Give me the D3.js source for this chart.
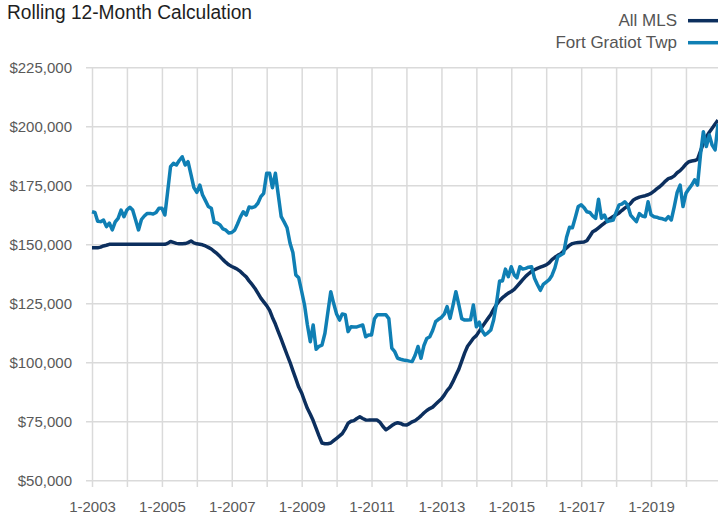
<!DOCTYPE html>
<html lang="en">
<head>
    <meta charset="UTF-8">
    <title>Rolling 12-Month Calculation</title>
    <script src="https://d3js.org/d3.v7.min.js"></script>
    <style>
        body { margin: 0; background: #fff; }
        text { font-family: "Liberation Sans", Arial, sans-serif; }
        .grid line { stroke: #dadada; stroke-width: 1.5px; }
        .grid text { fill: #595959; font-size: 15px; }
    </style>
</head>
<body>
<div id="chart"></div>

<script>
// monthly values, Jan 2003 .. Dec 2020 (in thousands of dollars)
var allMls = [
    148.5, 148.5, 148.5, 148.8, 149.3, 149.6, 150, 150, 150, 150, 150, 150,
    150, 150, 150, 150, 150, 150, 150, 150, 150, 150, 150, 150,
    150, 150, 150.4, 151.2, 150.8, 150.4, 150.2, 150.2, 150.3, 150.7, 151.4, 150.6,
    150.2, 150.0, 149.8, 149.3, 148.7, 148.0, 147.0, 146.0, 144.8, 143.5, 142.3, 141.3,
    140.6, 140.0, 139.4, 138.5, 137.3, 136.2, 134.5, 133.0, 131.3, 129.3, 127.2, 125.6,
    124.0, 122.0, 119.0, 116.2, 113.0, 109.8, 106.5, 103.2, 100.0, 96.5, 93.0, 89.5,
    87.0, 83.5, 80.5, 78.0, 75.3, 72.0, 68.8, 65.8, 65.5, 65.5, 65.8, 66.8,
    67.8, 68.8, 69.8, 71.8, 74.2, 75.0, 75.3, 76.2, 76.9, 76.2, 75.6, 75.5,
    75.5, 75.5, 75.5, 74.5, 72.8, 71.4, 72.2, 73.2, 74.0, 74.4, 74.1, 73.5,
    73.4, 74.0, 74.8, 75.3, 76.2, 77.3, 78.5, 79.6, 80.4, 81.0, 82.2, 83.4,
    84.5, 86.2, 88.0, 89.5, 91.8, 94.5, 97.0, 100.5, 104.0, 106.8, 108.5, 110.2,
    111.3, 113.2, 115.0, 116.8, 118.5, 120.3, 122.5, 124.5, 126.2, 127.4, 128.4, 129.3,
    130.0, 130.9, 132.2, 133.6, 135.0, 136.4, 137.5, 138.5, 139.2, 139.8, 140.3, 140.8,
    141.3, 142.2, 143.5, 144.5, 145.3, 146.0, 147.2, 148.5, 149.6, 150.3, 150.6, 150.8,
    150.9, 151.0, 151.5, 153.4, 155.3, 156.0, 157.0, 158.0, 159.0, 160.0, 161.0, 161.8,
    162.5, 163.3, 164.3, 165.3, 166.2, 167.3, 168.8, 169.5, 170.0, 170.3, 170.6, 171.0,
    171.6, 172.5, 173.5, 174.4, 175.5, 176.8, 177.8, 178.2, 179.0, 180.3, 181.2, 182.5,
    184.0, 185.0, 185.3, 185.5, 186.0, 189.5, 192.8, 195.5, 197.5, 199.2, 201.0, 202.6
];

var fortGratiot = [
    163.8, 163.5, 159.8, 159.6, 160.3, 157.5, 159.0, 156.1, 159.5, 161.0, 164.5, 161.7,
    164.5, 165.7, 164.5, 160.3, 156.1, 160.5, 162.0, 163.1, 163.1, 162.8, 163.5, 165.3,
    165.3, 162.4, 172.0, 182.9, 184.3, 183.6, 185.5, 187.1, 183.6, 185.0, 179.5, 174.0,
    172.0, 175.1, 171.0, 168.5, 166.0, 165.3, 159.3, 159.0, 158.2, 156.5, 156.0, 154.8,
    155.0, 156.0, 158.5, 161.5, 163.8, 162.4, 165.8, 165.5, 166.0, 167.4, 170.2, 171.6,
    180.1, 180.1, 174.0, 180.1, 171.0, 161.7, 159.5, 157.0, 150.5, 146.5, 137.0, 135.8,
    130.0, 124.0, 116.0, 108.7, 115.8, 105.5, 106.8, 107.3, 112.3, 121.0, 129.9, 125.0,
    120.5, 117.9, 120.5, 120.2, 113.0, 115.1, 115.0, 115.0, 115.4, 115.8, 110.8, 111.6,
    111.6, 118.5, 120.1, 120.1, 120.1, 120.1, 118.5, 106.0, 104.5, 101.7, 101.3, 101.0,
    100.8, 100.5, 100.3, 103.0, 106.7, 101.7, 107.0, 110.1, 110.8, 113.5, 117.2, 118.2,
    119.0, 120.5, 123.6, 118.6, 124.0, 129.9, 124.5, 118.5, 117.9, 117.9, 118.0, 124.3,
    115.1, 117.0, 113.5, 111.6, 112.5, 113.7, 118.0, 125.5, 134.5, 134.5, 139.5, 136.3,
    140.5, 137.0, 135.8, 140.5, 139.5, 139.8, 140.3, 140.5, 135.6, 133.0, 130.5, 133.0,
    134.0, 135.0, 136.8, 140.0, 144.7, 145.5, 146.2, 153.0, 157.2, 157.0, 161.5, 166.0,
    166.7, 165.5, 163.8, 163.5, 162.0, 161.0, 169.1, 161.0, 162.4, 159.6, 160.0, 160.3,
    163.5, 166.7, 167.0, 168.0, 166.7, 162.4, 161.0, 159.6, 163.0, 162.0, 161.7, 168.0,
    162.5, 161.7, 161.5, 161.0, 160.8, 160.3, 161.7, 160.3, 166.0, 172.0, 175.1, 166.0,
    171.6, 173.5, 175.1, 177.3, 175.1, 188.0, 197.7, 191.4, 196.3, 192.0, 190.0, 201.0
];

var seriesNames = ["All MLS", "Fort Gratiot Twp"];
var seriesColors = ["#0c2f5e", "#0f7fb4"];
var yTicks = [50000, 75000, 100000, 125000, 150000, 175000, 200000, 225000];
var xTickLabels = ["1-2003", "1-2005", "1-2007", "1-2009", "1-2011", "1-2013", "1-2015", "1-2017", "1-2019"];

var width = 718, height = 515;
var plotLeft = 92, plotRight = 718, plotTop = 67.3, plotBottom = 480.3;

var months = allMls.map(function(d, i) { return new Date(2003, i, 1); });
var years = d3.range(2003, 2021).map(function(yr) { return new Date(yr, 0, 1); });

var svg = d3.select("#chart").append("svg")
    .attr("width", width)
    .attr("height", height);

var x = d3.scaleTime()
    .domain([months[0], months[months.length - 1]])
    .range([plotLeft, plotRight]);

var y = d3.scaleLinear()
    .domain([50000, 225000])
    .range([plotBottom, plotTop]);

// horizontal grid + y labels
svg.append("g")
    .attr("class", "grid")
    .attr("transform", "translate(86,0)")
    .call(d3.axisLeft(y)
        .tickValues(yTicks)
        .tickSize(-(plotRight - 86))
        .tickPadding(14)
        .tickFormat(function(d) { return "$" + d3.format(",")(d); }))
    .call(function(g) { g.select(".domain").remove(); });

// vertical grid + x labels
var fmt = d3.timeFormat("%-m-%Y");
svg.append("g")
    .attr("class", "grid")
    .attr("transform", "translate(0,487)")
    .call(d3.axisBottom(x)
        .tickValues(years)
        .tickSize(-(487 - plotTop))
        .tickPadding(14)
        .tickFormat(function(d) {
            var label = fmt(d);
            return xTickLabels.indexOf(label) >= 0 ? label : "";
        }))
    .call(function(g) { g.select(".domain").remove(); });

d3.selectAll(".grid").attr("font-family", null).attr("font-size", null);

var line = d3.line()
    .x(function(d, i) { return x(months[i]); })
    .y(function(d) { return y(d * 1000); });

[allMls, fortGratiot].forEach(function(data, k) {
    svg.append("path")
        .datum(data)
        .attr("d", line)
        .attr("fill", "none")
        .attr("stroke", seriesColors[k])
        .attr("stroke-width", 3.5)
        .attr("stroke-linejoin", "round");
});

// title
svg.append("text")
    .attr("x", 7)
    .attr("y", 19)
    .attr("font-size", 20)
    .attr("fill", "#1e1e1e")
    .attr("textLength", 245)
    .attr("lengthAdjust", "spacingAndGlyphs")
    .text("Rolling 12-Month Calculation");

// legend
var legendY = [20.7, 42.7];
seriesNames.forEach(function(name, k) {
    svg.append("line")
        .attr("x1", 688).attr("x2", 718)
        .attr("y1", legendY[k]).attr("y2", legendY[k])
        .attr("stroke", seriesColors[k])
        .attr("stroke-width", 3.5);
    svg.append("text")
        .attr("x", 677)
        .attr("y", legendY[k] + 5.5)
        .attr("text-anchor", "end")
        .attr("font-size", 17)
        .attr("fill", "#555")
        .text(name);
});
</script>
</body>
</html>
